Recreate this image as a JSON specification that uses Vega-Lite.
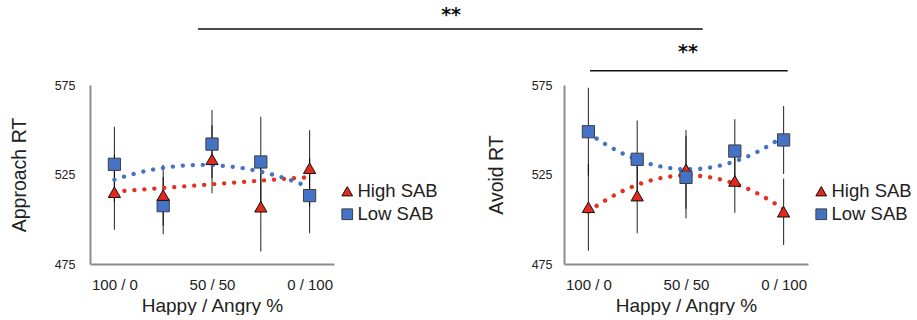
{
  "$schema": "https://vega.github.io/schema/vega-lite/v6.json",
  "background": "white",
  "padding": {"left": 9, "top": 6, "right": 0, "bottom": 0},
  "autosize": {"type": "pad"},
  "bounds": "flush",
  "spacing": 230,
  "config": {
    "view": {"stroke": null},
    "font": "Liberation Sans",
    "axis": {"grid": false, "ticks": false, "domainColor": "#8c8c8c", "domainWidth": 2, "labelFont": "Liberation Sans", "titleFont": "Liberation Sans", "labelColor": "#222222", "titleColor": "#222222", "titleFontWeight": "normal"},
    "legend": {"labelFont": "Liberation Sans", "labelColor": "#222222"}
  },
  "datasets": {
    "approach": [
      {"x": 1, "group": "Low SAB", "rt": 530.7, "lo": 509.7, "hi": 551.7},
      {"x": 2, "group": "Low SAB", "rt": 507.6, "lo": 491.6, "hi": 523.6},
      {"x": 3, "group": "Low SAB", "rt": 542.0, "lo": 523.0, "hi": 561.0},
      {"x": 4, "group": "Low SAB", "rt": 532.0, "lo": 506.7, "hi": 557.3},
      {"x": 5, "group": "Low SAB", "rt": 513.2, "lo": 492.2, "hi": 534.2},
      {"x": 1, "group": "High SAB", "rt": 515.1, "lo": 494.1, "hi": 536.1},
      {"x": 2, "group": "High SAB", "rt": 513.5, "lo": 496.5, "hi": 530.5},
      {"x": 3, "group": "High SAB", "rt": 533.5, "lo": 514.5, "hi": 552.5},
      {"x": 4, "group": "High SAB", "rt": 507.0, "lo": 482.0, "hi": 532.0},
      {"x": 5, "group": "High SAB", "rt": 528.5, "lo": 507.3, "hi": 549.7}
    ],
    "avoid": [
      {"x": 1, "group": "High SAB", "rt": 506.7, "lo": 482.4, "hi": 531.0},
      {"x": 2, "group": "High SAB", "rt": 513.2, "lo": 492.2, "hi": 534.2},
      {"x": 3, "group": "High SAB", "rt": 527.9, "lo": 505.9, "hi": 549.9},
      {"x": 4, "group": "High SAB", "rt": 521.4, "lo": 503.7, "hi": 539.1},
      {"x": 5, "group": "High SAB", "rt": 504.2, "lo": 485.6, "hi": 522.8},
      {"x": 1, "group": "Low SAB", "rt": 548.9, "lo": 524.4, "hi": 573.4},
      {"x": 2, "group": "Low SAB", "rt": 533.5, "lo": 511.9, "hi": 555.1},
      {"x": 3, "group": "Low SAB", "rt": 523.4, "lo": 500.5, "hi": 546.3},
      {"x": 4, "group": "Low SAB", "rt": 538.1, "lo": 520.4, "hi": 555.8},
      {"x": 5, "group": "Low SAB", "rt": 544.3, "lo": 525.3, "hi": 563.3}
    ],
    "sigApproach": [
      {"x1": 2.713, "x2": 13.056, "yv": 606.3, "tx": 7.9, "ty": 614.1, "label": "**"}
    ],
    "sigAvoid": [
      {"x1": 1.033, "x2": 5.084, "yv": 583.0, "tx": 3.04, "ty": 593.6, "label": "**"}
    ]
  },
  "hconcat": [
    {
      "width": 244,
      "height": 179,
      "layer": [
        {
          "data": {"name": "approach"},
          "mark": {"type": "rule", "color": "black", "strokeWidth": 1.1, "opacity": 0.8},
          "encoding": {
            "x": {"field": "x", "type": "quantitative", "scale": {"domain": [0.5, 5.5], "nice": false, "zero": false},
              "axis": {"values": [1, 3, 5], "labelExpr": "datum.value == 1 ? '100 / 0' : datum.value == 3 ? '50 / 50' : '0 / 100'", "labelFontSize": 15, "labelPadding": 13, "labelFlush": false, "title": "Happy / Angry %", "titleFontSize": 19, "titlePadding": 4}},
            "y": {"field": "lo", "type": "quantitative", "scale": {"domain": [475, 575], "nice": false, "zero": false},
              "axis": {"values": [475, 525, 575], "labelFontSize": 12.5, "labelPadding": 15, "title": "Approach RT", "titleFontSize": 19.5, "titlePadding": 25}},
            "y2": {"field": "hi"}
          }
        },
        {
          "data": {"name": "approach"},
          "transform": [
            {"filter": "datum.group == 'High SAB'"},
            {"regression": "rt", "on": "x", "method": "poly", "order": 2, "extent": [1, 5]}
          ],
          "mark": {"type": "line", "color": "#E5301F", "strokeWidth": 4.3, "strokeDash": [0.1, 9.9], "strokeCap": "round"},
          "encoding": {
            "x": {"field": "x", "type": "quantitative", "scale": {"domain": [0.5, 5.5], "nice": false, "zero": false}},
            "y": {"field": "rt", "type": "quantitative", "scale": {"domain": [475, 575], "nice": false, "zero": false}}
          }
        },
        {
          "data": {"name": "approach"},
          "transform": [
            {"filter": "datum.group == 'Low SAB'"},
            {"regression": "rt", "on": "x", "method": "poly", "order": 2, "extent": [1, 5]}
          ],
          "mark": {"type": "line", "color": "#4472C4", "strokeWidth": 4.3, "strokeDash": [0.1, 9.9], "strokeCap": "round"},
          "encoding": {
            "x": {"field": "x", "type": "quantitative", "scale": {"domain": [0.5, 5.5], "nice": false, "zero": false}},
            "y": {"field": "rt", "type": "quantitative", "scale": {"domain": [475, 575], "nice": false, "zero": false}}
          }
        },
        {
          "data": {"name": "approach"},
          "mark": {"type": "point", "filled": true, "size": 150, "opacity": 1, "strokeWidth": 1},
          "encoding": {
            "x": {"field": "x", "type": "quantitative", "scale": {"domain": [0.5, 5.5], "nice": false, "zero": false}},
            "y": {"field": "rt", "type": "quantitative", "scale": {"domain": [475, 575], "nice": false, "zero": false}},
            "color": {"field": "group", "type": "nominal", "scale": {"domain": ["High SAB", "Low SAB"], "range": ["#E3291D", "#4472C4"]},
              "legend": {"title": null, "orient": "none", "legendX": 248, "legendY": 97, "labelFontSize": 18.5, "symbolSize": 115, "symbolStrokeWidth": 1, "rowPadding": 4, "labelOffset": 1}},
            "shape": {"field": "group", "type": "nominal", "scale": {"domain": ["High SAB", "Low SAB"], "range": ["triangle-up", "square"]}},
            "stroke": {"field": "group", "type": "nominal", "scale": {"domain": ["High SAB", "Low SAB"], "range": ["#111111", "#3f3f3f"]}}
          }
        },
        {
          "data": {"name": "sigApproach"},
          "mark": {"type": "rule", "color": "#4a4a4a", "strokeWidth": 2},
          "encoding": {
            "x": {"field": "x1", "type": "quantitative", "scale": {"domain": [0.5, 5.5], "nice": false, "zero": false}},
            "x2": {"field": "x2"},
            "y": {"field": "yv", "type": "quantitative", "scale": {"domain": [475, 575], "nice": false, "zero": false}}
          }
        },
        {
          "data": {"name": "sigApproach"},
          "mark": {"type": "text", "font": "DejaVu Sans", "fontWeight": "bold", "fontSize": 19, "baseline": "middle", "align": "center", "color": "#111111"},
          "encoding": {
            "x": {"field": "tx", "type": "quantitative", "scale": {"domain": [0.5, 5.5], "nice": false, "zero": false}},
            "y": {"field": "ty", "type": "quantitative", "scale": {"domain": [475, 575], "nice": false, "zero": false}},
            "text": {"field": "label"}
          }
        }
      ]
    },
    {
      "width": 244,
      "height": 179,
      "layer": [
        {
          "data": {"name": "avoid"},
          "mark": {"type": "rule", "color": "black", "strokeWidth": 1.1, "opacity": 0.8},
          "encoding": {
            "x": {"field": "x", "type": "quantitative", "scale": {"domain": [0.5, 5.5], "nice": false, "zero": false},
              "axis": {"values": [1, 3, 5], "labelExpr": "datum.value == 1 ? '100 / 0' : datum.value == 3 ? '50 / 50' : '0 / 100'", "labelFontSize": 15, "labelPadding": 13, "labelFlush": false, "title": "Happy / Angry %", "titleFontSize": 19, "titlePadding": 4}},
            "y": {"field": "lo", "type": "quantitative", "scale": {"domain": [475, 575], "nice": false, "zero": false},
              "axis": {"values": [475, 525, 575], "labelFontSize": 12.5, "labelPadding": 12, "title": "Avoid RT", "titleFontSize": 19.5, "titlePadding": 25}},
            "y2": {"field": "hi"}
          }
        },
        {
          "data": {"name": "avoid"},
          "transform": [
            {"filter": "datum.group == 'High SAB'"},
            {"regression": "rt", "on": "x", "method": "poly", "order": 2, "extent": [1, 5]}
          ],
          "mark": {"type": "line", "color": "#E5301F", "strokeWidth": 4.3, "strokeDash": [0.1, 9.9], "strokeCap": "round"},
          "encoding": {
            "x": {"field": "x", "type": "quantitative", "scale": {"domain": [0.5, 5.5], "nice": false, "zero": false}},
            "y": {"field": "rt", "type": "quantitative", "scale": {"domain": [475, 575], "nice": false, "zero": false}}
          }
        },
        {
          "data": {"name": "avoid"},
          "transform": [
            {"filter": "datum.group == 'Low SAB'"},
            {"regression": "rt", "on": "x", "method": "poly", "order": 2, "extent": [1, 5]}
          ],
          "mark": {"type": "line", "color": "#4472C4", "strokeWidth": 4.3, "strokeDash": [0.1, 9.9], "strokeCap": "round"},
          "encoding": {
            "x": {"field": "x", "type": "quantitative", "scale": {"domain": [0.5, 5.5], "nice": false, "zero": false}},
            "y": {"field": "rt", "type": "quantitative", "scale": {"domain": [475, 575], "nice": false, "zero": false}}
          }
        },
        {
          "data": {"name": "avoid"},
          "mark": {"type": "point", "filled": true, "size": 150, "opacity": 1, "strokeWidth": 1},
          "encoding": {
            "x": {"field": "x", "type": "quantitative", "scale": {"domain": [0.5, 5.5], "nice": false, "zero": false}},
            "y": {"field": "rt", "type": "quantitative", "scale": {"domain": [475, 575], "nice": false, "zero": false}},
            "color": {"field": "group", "type": "nominal", "scale": {"domain": ["High SAB", "Low SAB"], "range": ["#E3291D", "#4472C4"]},
              "legend": {"title": null, "orient": "none", "legendX": 248, "legendY": 97, "labelFontSize": 18.5, "symbolSize": 115, "symbolStrokeWidth": 1, "rowPadding": 4, "labelOffset": 1}},
            "shape": {"field": "group", "type": "nominal", "scale": {"domain": ["High SAB", "Low SAB"], "range": ["triangle-up", "square"]}},
            "stroke": {"field": "group", "type": "nominal", "scale": {"domain": ["High SAB", "Low SAB"], "range": ["#111111", "#3f3f3f"]}}
          }
        },
        {
          "data": {"name": "sigAvoid"},
          "mark": {"type": "rule", "color": "#111111", "strokeWidth": 1.6},
          "encoding": {
            "x": {"field": "x1", "type": "quantitative", "scale": {"domain": [0.5, 5.5], "nice": false, "zero": false}},
            "x2": {"field": "x2"},
            "y": {"field": "yv", "type": "quantitative", "scale": {"domain": [475, 575], "nice": false, "zero": false}}
          }
        },
        {
          "data": {"name": "sigAvoid"},
          "mark": {"type": "text", "font": "DejaVu Sans", "fontWeight": "bold", "fontSize": 19, "baseline": "middle", "align": "center", "color": "#111111"},
          "encoding": {
            "x": {"field": "tx", "type": "quantitative", "scale": {"domain": [0.5, 5.5], "nice": false, "zero": false}},
            "y": {"field": "ty", "type": "quantitative", "scale": {"domain": [475, 575], "nice": false, "zero": false}},
            "text": {"field": "label"}
          }
        }
      ]
    }
  ],
  "resolve": {
    "scale": {"x": "independent", "y": "independent", "color": "independent", "shape": "independent", "stroke": "independent"},
    "legend": {"color": "independent", "shape": "independent", "stroke": "independent"}
  }
}
